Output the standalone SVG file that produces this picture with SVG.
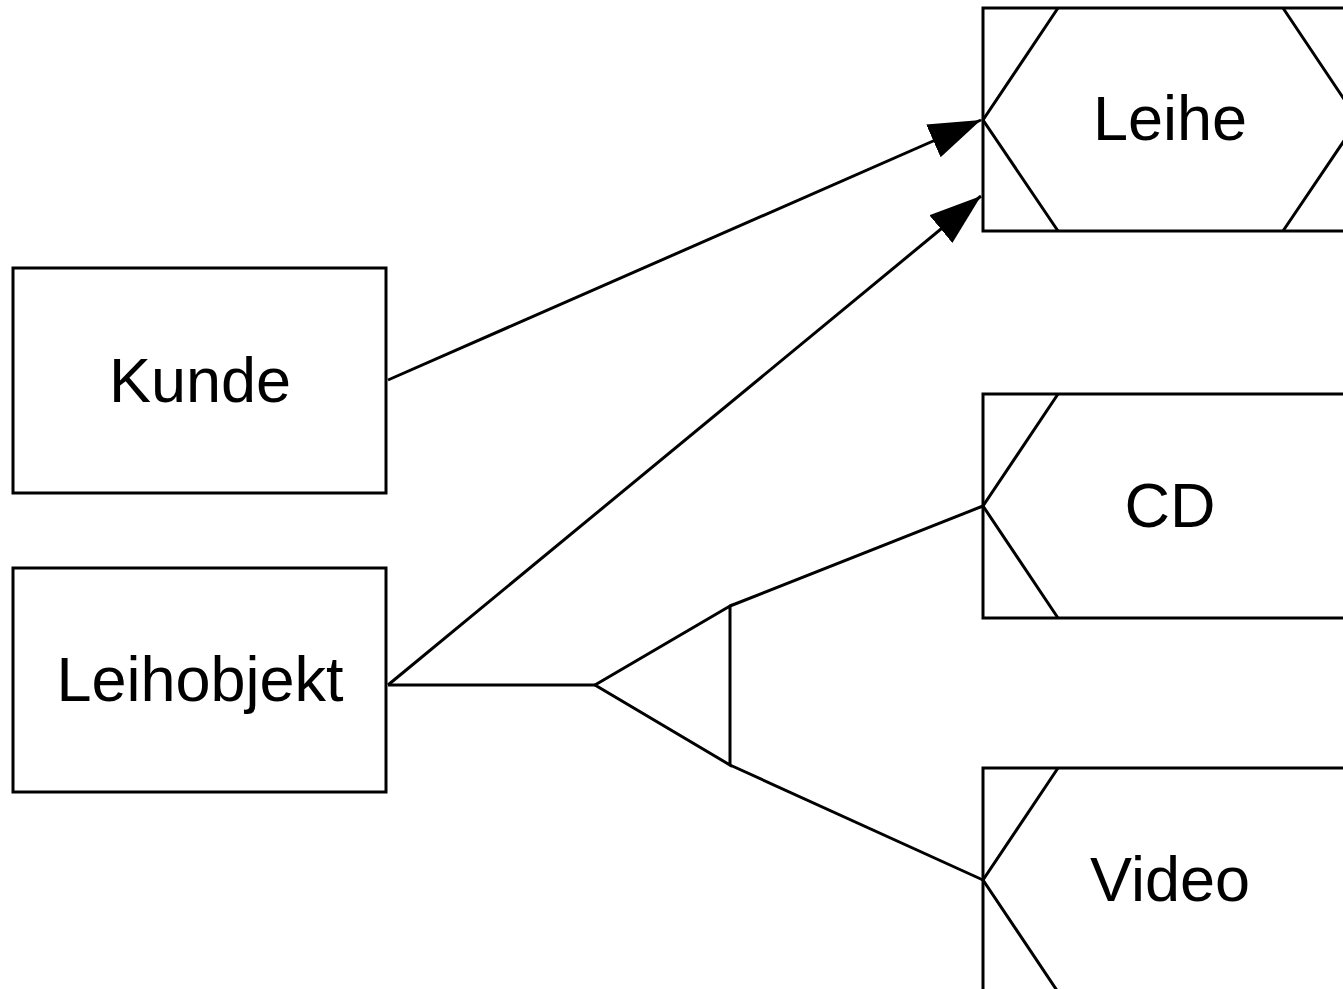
<svg xmlns="http://www.w3.org/2000/svg" width="1343" height="989" viewBox="0 0 1343 989">
  <style>
    .shape { fill: #ffffff; stroke: #000000; stroke-width: 3; stroke-linejoin: miter; }
    .line { fill: none; stroke: #000000; stroke-width: 3; }
    .label { font-family: "Liberation Sans", Arial, sans-serif; font-size: 63px; fill: #000000; text-anchor: middle; }
  </style>
  <defs>
    <marker id="arrow" markerUnits="userSpaceOnUse" markerWidth="56" markerHeight="40" refX="52" refY="18" orient="auto">
      <path d="M0,0 L52,18 L0,36 Z" fill="#000000"/>
    </marker>
  </defs>

  <rect width="1343" height="989" fill="#ffffff"/>

  <!-- connectors -->
  <g id="connectors">
    <line class="line" x1="388" y1="380" x2="981" y2="120" marker-end="url(#arrow)"/>
    <line class="line" x1="388" y1="685" x2="981" y2="196" marker-end="url(#arrow)"/>
    <!-- generalisation: Leihobjekt to CD and Video -->
    <line class="line" x1="388" y1="685" x2="595" y2="685"/>
    <path class="line" d="M730,606 L595,685 L730,765 Z"/>
    <line class="line" x1="730" y1="606" x2="983" y2="506"/>
    <line class="line" x1="730" y1="765" x2="983" y2="880"/>
  </g>

  <g id="kunde">
    <rect class="shape" x="13" y="268" width="373" height="225"/>
    <text class="label" x="200" y="402">Kunde</text>
  </g>

  <g id="leihobjekt">
    <rect class="shape" x="13" y="568" width="373" height="224"/>
    <text class="label" x="200" y="701">Leihobjekt</text>
  </g>

  <g id="leihe">
    <rect class="shape" x="983" y="8" width="375" height="223"/>
    <polyline class="line" points="1058,8 983,120 1058,231"/>
    <polyline class="line" points="1283,8 1358,120 1283,231"/>
    <text class="label" x="1170" y="140">Leihe</text>
  </g>

  <g id="cd">
    <rect class="shape" x="983" y="394" width="400" height="224"/>
    <polyline class="line" points="1058,394 983,506 1058,618"/>
    <text class="label" x="1170" y="527">CD</text>
  </g>

  <g id="video">
    <rect class="shape" x="983" y="768" width="400" height="224"/>
    <polyline class="line" points="1058,768 983,880 1058,992"/>
    <text class="label" x="1170" y="901">Video</text>
  </g>
</svg>
